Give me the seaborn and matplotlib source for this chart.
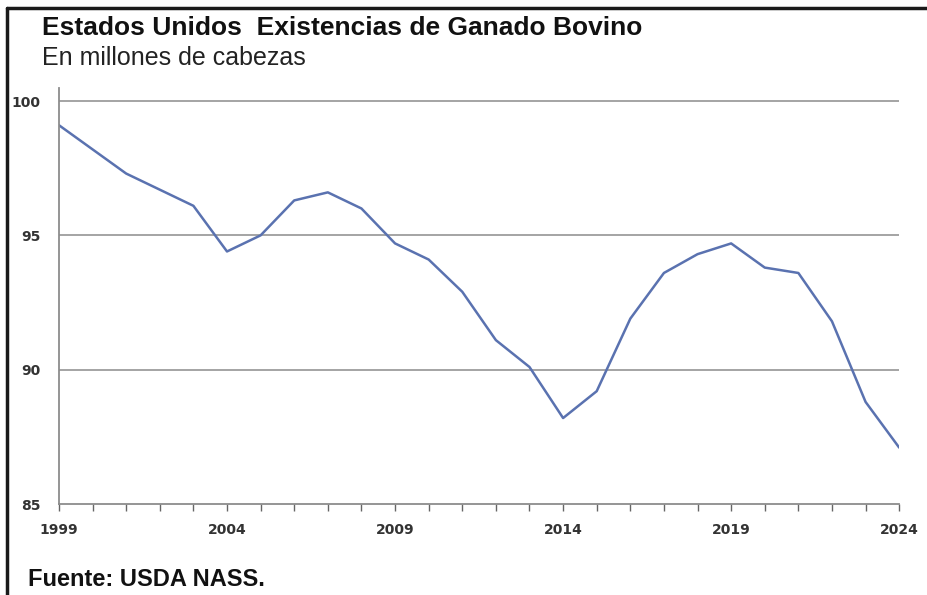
import matplotlib
matplotlib.use("Agg")
import matplotlib.pyplot as plt
from matplotlib.lines import Line2D
from matplotlib.ticker import MultipleLocator
import pandas as pd
import seaborn as sns

# -------------------------------
# Data
# -------------------------------
years = list(range(1999, 2025))
cattle = [99.1, 98.2, 97.3, 96.7, 96.1, 94.4, 95.0, 96.3, 96.6, 96.0,
          94.7, 94.1, 92.9, 91.1, 90.1, 88.2, 89.2, 91.9, 93.6, 94.3,
          94.7, 93.8, 93.6, 91.8, 88.8, 87.1]
x_ticks = [1999, 2004, 2009, 2014, 2019, 2024]
y_ticks = [85, 90, 95, 100]

title = "Estados Unidos  Existencias de Ganado Bovino"
subtitle = "En millones de cabezas"
source = "Fuente: USDA NASS."

df = pd.DataFrame({"Year": years, "Cattle": cattle})

# -------------------------------
# Style
# -------------------------------
sns.set_style("white")
plt.rcParams["font.family"] = ["Liberation Sans", "DejaVu Sans"]

grid_grey = "#8c8c8c"
line_blue = "#5a72b0"

fig = plt.figure(figsize=(9.27, 5.95), dpi=100)
ax = fig.add_axes([0.0636, 0.1529, 0.9064, 0.6999])

sns.lineplot(data=df, x="Year", y="Cattle", ax=ax, color=line_blue,
             linewidth=1.8)

ax.set_xlim(1999, 2024)
ax.set_ylim(85, 100.5)
ax.set_xticks(x_ticks)
ax.xaxis.set_minor_locator(MultipleLocator(1))
ax.set_yticks(y_ticks)

for y in y_ticks[1:]:
    ax.axhline(y, color=grid_grey, linewidth=1.1, zorder=0)

for side in ["top", "right"]:
    ax.spines[side].set_visible(False)
for side in ["left", "bottom"]:
    ax.spines[side].set_color(grid_grey)
    ax.spines[side].set_linewidth(1.3)

ax.tick_params(axis="x", which="both", bottom=True, direction="out",
               length=5, width=1, color="#666666", pad=9)
ax.tick_params(axis="y", left=False, length=0, pad=13)
for lbl in ax.get_xticklabels() + ax.get_yticklabels():
    lbl.set_family("DejaVu Sans")
    lbl.set_fontsize(10)
    lbl.set_fontweight("bold")
    lbl.set_color("#333333")

ax.set_xlabel("")
ax.set_ylabel("")

# -------------------------------
# Texts
# -------------------------------
fig.text(42 / 927, 1 - 28 / 595, title, fontsize=19, fontweight="bold",
         va="center", ha="left", color="#111111")
fig.text(42 / 927, 1 - 58 / 595, subtitle, fontsize=18,
         va="center", ha="left", color="#222222")
fig.text(28 / 927, 1 - 580 / 595, source, fontsize=17, fontweight="bold",
         va="center", ha="left", color="#111111")

# black frame on top and left edge
fig.add_artist(Line2D([7 / 927, 1], [1 - 8 / 595, 1 - 8 / 595],
                      color="#1a1a1a", linewidth=2.5,
                      transform=fig.transFigure))
fig.add_artist(Line2D([7 / 927, 7 / 927], [0, 1 - 8 / 595],
                      color="#1a1a1a", linewidth=2.5,
                      transform=fig.transFigure))

fig.savefig("out.png", dpi=100)
